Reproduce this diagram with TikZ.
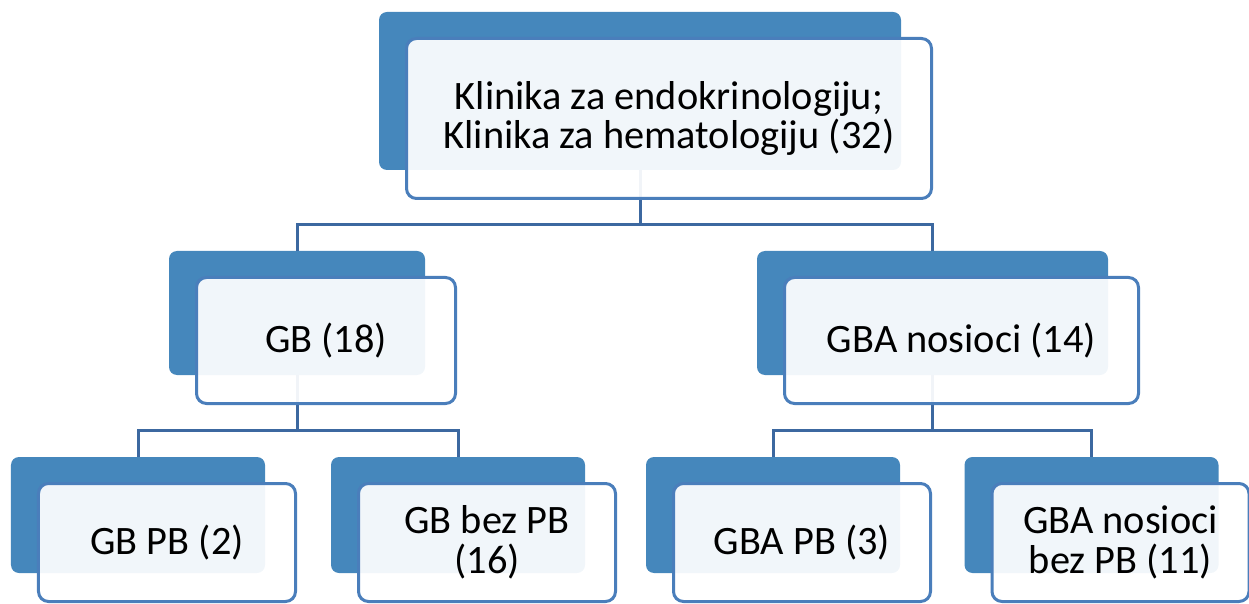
\documentclass[tikz,border=0pt]{standalone}
\usepackage{fontspec}
\setmainfont{Carlito}
\usetikzlibrary{calc,fit}
\pgfdeclarelayer{bg}
\pgfsetlayers{bg,main}
\definecolor{boxblue}{RGB}{69,135,188}
\definecolor{lineblue}{RGB}{74,126,187}
\definecolor{connblue}{RGB}{60,104,160}

\begin{document}
\begin{tikzpicture}[x=1bp, y=-1bp,
    frontbox/.style={draw=lineblue, line width=3bp, rounded corners=10bp, fill=white,
        fill opacity=0.93, text opacity=1, align=center, inner sep=0pt,
        font=\fontsize{40.5}{40}\selectfont},
    topbox/.style={frontbox, minimum width=525bp, minimum height=160bp},
    midbox/.style={frontbox, minimum height=126bp},
    lowbox/.style={frontbox, minimum width=257bp, minimum height=118bp},
    backbox/.style={fill=boxblue, rounded corners=8bp, inner sep=0pt},
    connline/.style={draw=connblue, line width=3bp}]
        \useasboundingbox (0,0) rectangle (1249,604);

        \node[topbox] (Klinika) at (669,118.5) {Klinika za endokrinologiju;\\Klinika za hematologiju (32)};

        \node[midbox, minimum width=259bp] (GB) at (326,340.5) {GB (18)};
        \node[midbox, minimum width=354bp] (GBA) at (961.5,340.5) {GBA nosioci (14)};

        \node[lowbox] (GBPB) at (167,542.5) {GB PB (2)};
        \node[lowbox] (GBbez) at (487,542.5) {GB bez PB\\(16)};
        \node[lowbox] (GBAPB) at (802,542.5) {GBA PB (3)};
        \node[lowbox] (GBAbez) at (1120.5,542.5) {GBA nosioci\\bez PB (11)};

        % blue boxes behind, and the links
        \begin{pgfonlayer}{bg}
            \foreach \n in {Klinika,GB,GBA,GBPB,GBbez,GBAPB,GBAbez}
                \node[backbox, fit={($(\n.north west)+(-26,-25)$) ($(\n.south east)+(-32,-30)$)}] (\n-b) {};

            \draw[connline] (Klinika-b.south) -- ++(0,54) -| (GB-b.north);
            \draw[connline] (Klinika-b.south) -- ++(0,54) -| (GBA-b.north);
            \draw[connline] (GB-b.south) -- ++(0,55) -| (GBPB-b.north);
            \draw[connline] (GB-b.south) -- ++(0,55) -| (GBbez-b.north);
            \draw[connline] (GBA-b.south) -- ++(0,55) -| (GBAPB-b.north);
            \draw[connline] (GBA-b.south) -- ++(0,55) -| (GBAbez-b.north);
        \end{pgfonlayer}
\end{tikzpicture}
\end{document}
